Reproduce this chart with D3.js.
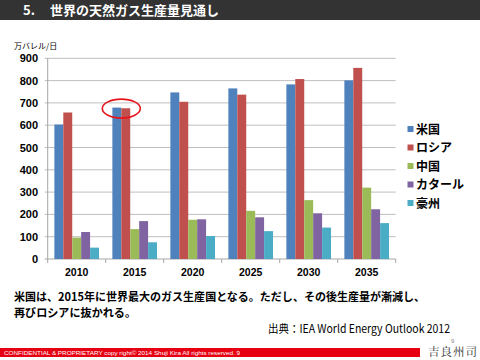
<!DOCTYPE html>
<html><head><meta charset="utf-8">
<script src="https://cdn.jsdelivr.net/npm/d3@7"></script>
<style>
html,body{margin:0;padding:0;background:#fff;}
svg{display:block;}
</style></head>
<body>
<svg id="c" width="480" height="360"></svg>
<script>
const years = ["2010","2015","2020","2025","2030","2035"];
const seriesNames = ["米国","ロシア","中国","カタール","豪州"];
const usa    = [603, 679, 747, 765, 783, 801];
const russia = [657, 676, 705, 737, 807, 857];
const china  = [96, 134, 176, 216, 264, 320];
const qatar  = [121, 170, 178, 187, 205, 223];
const aus    = [51, 75, 103, 125, 141, 161];
const yTicks = [0,100,200,300,400,500,600,700,800,900];
const colors = ["#4f81bd","#c0504d","#9bbb59","#8064a2","#4bacc6"];
const highlightYear = "2015";

const seriesVals = [usa, russia, china, qatar, aus];
const svg = d3.select("#c");
const JP = "'Noto Sans CJK JP','Noto Sans',sans-serif";
const LAT = "'Liberation Sans',Arial,sans-serif";

// title bar
svg.append("rect").attr("x",0).attr("y",0).attr("width",480).attr("height",20).attr("fill","#333333");
svg.append("text").attr("x",23).attr("y",15).attr("fill","#fff").attr("font-family",JP)
  .attr("font-weight","bold").attr("font-size",13).text("5.");
svg.append("text").attr("x",50).attr("y",15).attr("fill","#fff").attr("font-family",JP)
  .attr("font-weight","bold").attr("font-size",13).text("世界の天然ガス生産量見通し");

const x = d3.scaleBand().domain(years).range([47.7,395.7]).paddingInner(0.23).paddingOuter(0.115);
const xs = d3.scaleBand().domain(seriesNames).range([0,x.bandwidth()]);
const y = d3.scaleLinear().domain([0,900]).range([259,58.3]);

// gridlines
svg.append("g").selectAll("line").data(yTicks).join("line")
  .attr("x1",44.7).attr("x2",395.7).attr("y1",d=>y(d)).attr("y2",d=>y(d))
  .attr("stroke",d=>d===0?"#a6a6a6":"#bfbfbf").attr("stroke-width",1);
// y axis line
svg.append("line").attr("x1",47.7).attr("x2",47.7).attr("y1",y(900)).attr("y2",y(0)).attr("stroke","#a6a6a6");
// y tick labels
svg.append("g").selectAll("text").data(yTicks).join("text")
  .attr("x",38).attr("y",d=>y(d)+4).attr("text-anchor","end")
  .attr("font-family",LAT).attr("font-weight","bold").attr("font-size",11).attr("fill","#000").text(d=>d);
// y unit
svg.append("text").attr("x",14).attr("y",49).attr("font-family",JP).attr("font-size",8).attr("fill","#000").text("万バレル/日");

// x ticks at boundaries
const step = x.step();
const bounds = years.map(c=>x(c)-step*x.paddingInner()/2).concat([x(years[years.length-1])+x.bandwidth()+step*x.paddingInner()/2]);
svg.append("g").selectAll("line").data(bounds).join("line")
  .attr("x1",d=>d).attr("x2",d=>d).attr("y1",y(0)).attr("y2",y(0)+4).attr("stroke","#a6a6a6");
svg.append("g").selectAll("text").data(years).join("text")
  .attr("x",d=>x(d)+x.bandwidth()/2).attr("y",y(0)+17).attr("text-anchor","middle")
  .attr("font-family",LAT).attr("font-weight","bold").attr("font-size",10.5).attr("fill","#000").text(d=>d);

// bars
seriesNames.forEach((s,i)=>{
  svg.append("g").selectAll("rect").data(years).join("rect")
    .attr("x",(d)=>x(d)+xs(s)).attr("width",xs.bandwidth())
    .attr("y",(d,j)=>y(seriesVals[i][j])).attr("height",(d,j)=>y(0)-y(seriesVals[i][j]))
    .attr("fill",colors[i]);
});

// highlight ellipse
const hi = years.indexOf(highlightYear);
const hiTop = Math.max(usa[hi], russia[hi]);
svg.append("ellipse").attr("cx",x(highlightYear)+xs(seriesNames[1])).attr("cy",y(hiTop)+1)
  .attr("rx",19).attr("ry",9.5).attr("fill","none").attr("stroke","#e8141b").attr("stroke-width",1.6);

// legend
const lg = svg.append("g");
seriesNames.forEach((s,i)=>{
  const ly = 129 + i*18.5;
  lg.append("rect").attr("x",407.5).attr("y",ly-3).attr("width",6).attr("height",6).attr("fill",colors[i]);
  lg.append("text").attr("x",416).attr("y",ly+4.5).attr("font-family",JP).attr("font-weight","bold")
    .attr("font-size",12).attr("fill","#000").text(s);
});

// bottom commentary
svg.append("text").attr("x",14).attr("y",301).attr("font-family",JP).attr("font-weight","bold").attr("font-size",11.5)
  .attr("fill","#000").attr("textLength",411).attr("lengthAdjust","spacingAndGlyphs")
  .text("米国は、2015年に世界最大のガス生産国となる。ただし、その後生産量が漸減し、");
svg.append("text").attr("x",14).attr("y",317).attr("font-family",JP).attr("font-weight","bold").attr("font-size",11.5)
  .attr("fill","#000").attr("textLength",122).attr("lengthAdjust","spacingAndGlyphs").text("再びロシアに抜かれる。");
svg.append("text").attr("x",268).attr("y",333).attr("font-family",JP).attr("font-size",11.5)
  .attr("fill","#000").attr("textLength",182).attr("lengthAdjust","spacingAndGlyphs").text("出典：IEA World Energy Outlook 2012");

// footer
svg.append("rect").attr("x",0).attr("y",348).attr("width",420).attr("height",9).attr("fill","#e60012");
svg.append("text").attr("x",4).attr("y",355).attr("font-family",LAT).attr("font-size",6).attr("fill","#fff")
  .attr("textLength",236).attr("lengthAdjust","spacingAndGlyphs")
  .text("CONFIDENTIAL & PROPRIETARY   copy right© 2014   Shuji Kira All rights reserved.    9");
svg.append("text").attr("x",428).attr("y",356).attr("font-family","'Noto Serif CJK JP','Noto Sans CJK JP',serif").attr("font-size",11.5)
  .attr("fill","#333").attr("letter-spacing",1).text("吉良州司");
svg.append("text").attr("x",451).attr("y",343).attr("font-family",LAT).attr("font-size",6).attr("fill","#888").text("9");
</script>
</body></html>
